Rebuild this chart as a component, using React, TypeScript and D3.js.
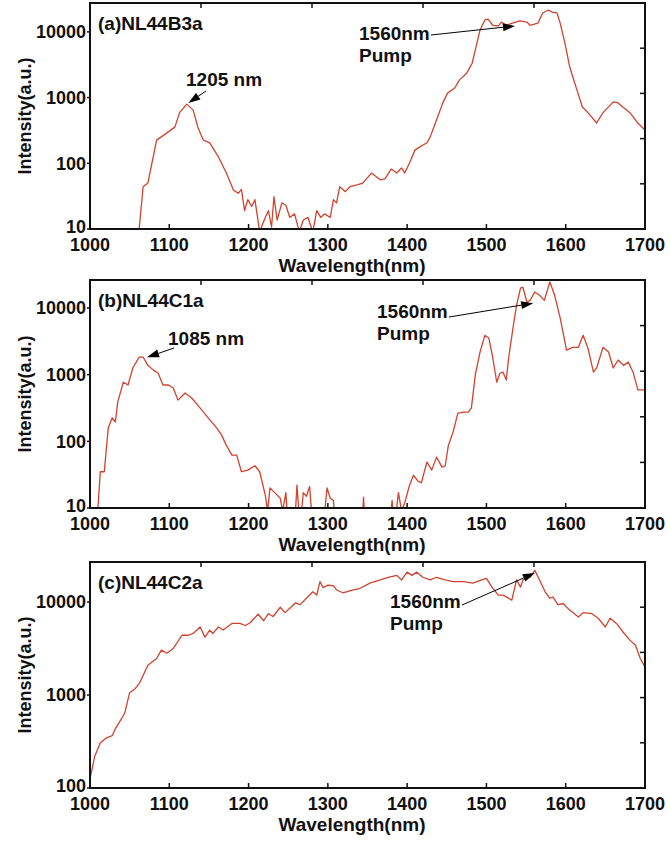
import React from "react";
import * as d3 from "d3";

// ---------- Data ----------
const wavelengthA = [1055, 1062, 1067, 1073, 1084, 1097, 1107, 1113, 1122, 1130, 1136, 1143, 1151, 1162, 1172, 1181, 1187, 1191, 1195, 1199, 1204, 1208, 1214, 1221, 1225, 1229, 1232, 1236, 1242, 1247, 1252, 1258, 1264, 1269, 1275, 1281, 1286, 1291, 1296, 1303, 1307, 1311, 1315, 1322, 1328, 1337, 1344, 1355, 1366, 1372, 1380, 1387, 1393, 1397, 1403, 1410, 1416, 1425, 1429, 1437, 1445, 1451, 1460, 1466, 1475, 1482, 1488, 1492, 1498, 1502, 1508, 1515, 1519, 1525, 1533, 1542, 1551, 1555, 1565, 1571, 1578, 1583, 1589, 1593, 1599, 1605, 1614, 1621, 1628, 1639, 1647, 1660, 1666, 1672, 1681, 1691, 1700];
const intensityA = [5, 10, 44, 50, 225, 290, 355, 590, 795, 650, 355, 225, 205, 125, 71, 39, 35, 40, 19, 28, 22, 28, 9, 15, 19, 10.7, 31, 13.7, 25, 23, 15, 17, 9, 13.7, 15, 9, 19, 15, 17, 15, 28, 25, 44, 37, 44, 47, 50, 71, 56, 58, 82, 71, 85, 71, 101, 160, 178, 205, 250, 455, 830, 1170, 1400, 1860, 2340, 3330, 6760, 10700, 15200, 15600, 12600, 12300, 14100, 12600, 13600, 14700, 14100, 12600, 13600, 19400, 21500, 20000, 19400, 13600, 6760, 2940, 1320, 720, 590, 410, 590, 860, 830, 720, 590, 410, 320];

const wavelengthB = [1008, 1010, 1013, 1018, 1023, 1028, 1032, 1035, 1042, 1048, 1054, 1062, 1067, 1073, 1080, 1086, 1092, 1099, 1105, 1111, 1120, 1128, 1139, 1149, 1160, 1166, 1172, 1179, 1185, 1191, 1199, 1208, 1214, 1221, 1224, 1227, 1233, 1240, 1243, 1247, 1250, 1258, 1261, 1265, 1269, 1273, 1277, 1281, 1294, 1299, 1303, 1307, 1310, 1343, 1345, 1347, 1378, 1381, 1384, 1389, 1393, 1397, 1403, 1408, 1414, 1418, 1425, 1431, 1437, 1444, 1448, 1452, 1458, 1464, 1471, 1477, 1481, 1486, 1492, 1498, 1503, 1508, 1513, 1517, 1521, 1525, 1528, 1534, 1538, 1543, 1546, 1551, 1555, 1561, 1567, 1573, 1580, 1586, 1593, 1601, 1609, 1616, 1622, 1628, 1635, 1639, 1647, 1654, 1660, 1666, 1673, 1679, 1685, 1691, 1700];
const intensityB = [5, 10, 35, 35, 158, 225, 195, 390, 770, 700, 1260, 1830, 1830, 1380, 1170, 1050, 700, 700, 630, 415, 530, 450, 315, 225, 158, 124, 87, 62, 62, 35, 37, 43, 35, 15.7, 9, 20, 17, 14, 9, 17, 5, 5, 22, 5, 17, 15, 21, 5, 5, 20, 14, 13, 5, 5, 14.6, 5, 5, 13, 5, 17, 9, 12, 22, 31, 25, 24, 49, 37, 58, 41, 43, 87, 138, 265, 275, 275, 315, 1000, 2190, 3890, 3550, 1780, 770, 1050, 1090, 830, 1780, 5500, 11000, 19900, 20500, 12300, 13000, 17400, 15500, 13000, 24500, 15500, 7100, 2340, 2570, 2570, 3900, 2500, 1090, 1260, 2570, 2190, 1260, 1660, 1380, 1540, 1090, 590, 590];

const wavelengthC = [1000, 1006, 1013, 1021, 1028, 1032, 1040, 1044, 1050, 1057, 1063, 1073, 1084, 1090, 1097, 1105, 1116, 1124, 1130, 1139, 1145, 1151, 1155, 1162, 1168, 1179, 1189, 1196, 1202, 1212, 1219, 1225, 1231, 1240, 1246, 1252, 1259, 1265, 1273, 1281, 1286, 1290, 1294, 1300, 1307, 1311, 1319, 1332, 1340, 1353, 1366, 1376, 1387, 1393, 1400, 1406, 1412, 1420, 1429, 1437, 1448, 1458, 1471, 1483, 1494, 1500, 1507, 1515, 1521, 1532, 1538, 1543, 1546, 1555, 1561, 1567, 1574, 1580, 1584, 1590, 1597, 1605, 1616, 1622, 1633, 1641, 1650, 1656, 1664, 1672, 1681, 1688, 1694, 1700];
const intensityC = [125, 220, 306, 347, 365, 435, 560, 650, 1060, 1170, 1370, 2090, 2470, 3040, 2820, 3170, 4400, 4400, 4600, 5400, 4200, 5000, 4600, 5400, 5000, 5900, 5900, 5600, 6000, 7400, 6300, 7500, 7000, 8800, 7700, 8600, 9800, 9400, 11000, 12900, 11900, 16600, 14300, 15200, 15000, 13500, 12600, 13500, 14000, 16000, 17300, 18500, 19400, 17300, 21000, 19400, 21000, 18500, 17300, 18500, 17300, 16600, 16600, 16000, 17300, 18000, 14500, 11900, 11900, 10500, 17300, 14500, 17300, 18500, 22000, 17300, 12900, 11000, 11300, 9400, 9600, 8200, 6900, 7700, 7500, 6700, 5400, 6700, 5900, 4800, 3900, 3430, 2470, 2000];

const xTicks = [1000, 1100, 1200, 1300, 1400, 1500, 1600, 1700];
const yTicksAB = [10, 100, 1000, 10000];
const yTicksC = [100, 1000, 10000];
const panelLabels = ["(a)NL44B3a", "(b)NL44C1a", "(c)NL44C2a"];
const xTitle = "Wavelength(nm)";
const yTitle = "Intensity(a.u.)";

// ---------- Layout / style ----------
const W = 670;
const H = 845;
const LEFT = 90;
const RIGHT = 645;
const FONT = "'Liberation Sans', Arial, Helvetica, sans-serif";
const RED = "#d0432f";

type Ann = { lines: string[]; tx: number; ty: number; tail: [number, number]; tip: [number, number] };

const panels = [
  {
    label: panelLabels[0], wl: wavelengthA, it: intensityA, top: 3, bottom: 229,
    domain: [10, 27500], ticks: yTicksAB,
    anns: [
      { lines: ["1205 nm"], tx: 186, ty: 86, tail: [206, 91], tip: [1124, 830] },
      { lines: ["1560nm", "Pump"], tx: 359, ty: 40, tail: [431, 35], tip: [1536, 12300] },
    ] as Ann[],
  },
  {
    label: panelLabels[1], wl: wavelengthB, it: intensityB, top: 280, bottom: 508,
    domain: [10, 26300], ticks: yTicksAB,
    anns: [
      { lines: ["1085 nm"], tx: 168, ty: 345, tail: [174, 348], tip: [1072, 1820] },
      { lines: ["1560nm", "Pump"], tx: 377, ty: 318, tail: [449, 317], tip: [1559, 11800] },
    ] as Ann[],
  },
  {
    label: panelLabels[2], wl: wavelengthC, it: intensityC, top: 562, bottom: 788,
    domain: [100, 27000], ticks: yTicksC,
    anns: [
      { lines: ["1560nm", "Pump"], tx: 390, ty: 608, tail: [462, 605], tip: [1561, 20500] },
    ] as Ann[],
  },
];

const x = d3.scaleLinear().domain([1000, 1700]).range([LEFT, RIGHT]);

function Arrow({ x1, y1, x2, y2 }: { x1: number; y1: number; x2: number; y2: number }) {
  const dx = x2 - x1, dy = y2 - y1;
  const len = Math.sqrt(dx * dx + dy * dy);
  const ux = dx / len, uy = dy / len;
  const hl = 12, hw = 4;
  const bx = x2 - ux * hl, by = y2 - uy * hl;
  const p = `${x2},${y2} ${bx - uy * hw},${by + ux * hw} ${bx + uy * hw},${by - ux * hw}`;
  return (
    <g>
      <line x1={x1} y1={y1} x2={bx} y2={by} stroke="#000" strokeWidth={1} />
      <polygon points={p} fill="#000" />
    </g>
  );
}

function Panel({ p, idx }: { p: (typeof panels)[number]; idx: number }) {
  const y = d3.scaleLog().domain(p.domain).range([p.bottom, p.top]);
  const line = d3
    .line<number>()
    .x((_, i) => x(p.wl[i]))
    .y((d) => y(d));
  const clipId = `clip${idx}`;
  const h = p.bottom - p.top;
  const w = RIGHT - LEFT;
  const fracs = [0.2, 0.4, 0.6, 0.8];
  const minTick = p.ticks[0];
  return (
    <g>
      <defs>
        <clipPath id={clipId}>
          <rect x={LEFT} y={p.top} width={w} height={h} />
        </clipPath>
      </defs>
      <path d={line(p.it) || ""} fill="none" stroke={RED} strokeWidth={1.3} strokeLinejoin="round" clipPath={`url(#${clipId})`} />
      <rect x={LEFT} y={p.top} width={w} height={h} fill="none" stroke="#111" strokeWidth={2} />
      {xTicks.map((t) => (
        <g key={t}>
          <line x1={x(t)} x2={x(t)} y1={p.bottom} y2={p.bottom - 5} stroke="#111" strokeWidth={1.5} />
          <text x={x(t)} y={p.bottom + 22} textAnchor="middle" fontFamily={FONT} fontWeight="bold" fontSize={18} fill="#111">
            {t}
          </text>
        </g>
      ))}
      {fracs.map((f) => (
        <line key={"t" + f} x1={LEFT + f * w} x2={LEFT + f * w} y1={p.top} y2={p.top + 5} stroke="#111" strokeWidth={1.5} />
      ))}
      {fracs.map((f) => (
        <line key={"r" + f} x1={RIGHT} x2={RIGHT - 5} y1={p.bottom - f * h} y2={p.bottom - f * h} stroke="#111" strokeWidth={1.5} />
      ))}
      {p.ticks.map((t) => (
        <g key={t}>
          <line x1={LEFT} x2={LEFT - 3} y1={y(t)} y2={y(t)} stroke="#111" strokeWidth={1.5} />
          <text x={LEFT - 4} y={y(t) - (t === minTick ? 2 : 0)} dy="0.35em" textAnchor="end" fontFamily={FONT} fontWeight="bold" fontSize={18} fill="#111">
            {t}
          </text>
        </g>
      ))}
      <text x={352} y={p.bottom + 43} textAnchor="middle" fontFamily={FONT} fontWeight="bold" fontSize={19} fill="#111">
        {xTitle}
      </text>
      <text
        transform={`translate(31,${(p.top + p.bottom) / 2}) rotate(-90)`}
        textAnchor="middle"
        fontFamily={FONT}
        fontWeight="bold"
        fontSize={18}
        fill="#111"
      >
        {yTitle}
      </text>
      <text x={98} y={p.top + 27} fontFamily={FONT} fontWeight="bold" fontSize={19} fill="#111">
        {p.label}
      </text>
      {p.anns.map((a, i) => (
        <g key={i}>
          {a.lines.map((s, j) => (
            <text key={j} x={a.tx} y={a.ty + j * 22} fontFamily={FONT} fontWeight="bold" fontSize={19} fill="#111">
              {s}
            </text>
          ))}
          <Arrow x1={a.tail[0]} y1={a.tail[1]} x2={x(a.tip[0])} y2={y(a.tip[1])} />
        </g>
      ))}
    </g>
  );
}

export default function App() {
  return (
    <div style={{ position: "absolute", left: 0, top: 0 }}>
      <svg width={W} height={H} viewBox={`0 0 ${W} ${H}`} style={{ display: "block", background: "#fff" }}>
        <rect x={0} y={0} width={W} height={H} fill="#fff" />
        {panels.map((p, i) => (
          <Panel key={i} p={p} idx={i} />
        ))}
      </svg>
    </div>
  );
}
